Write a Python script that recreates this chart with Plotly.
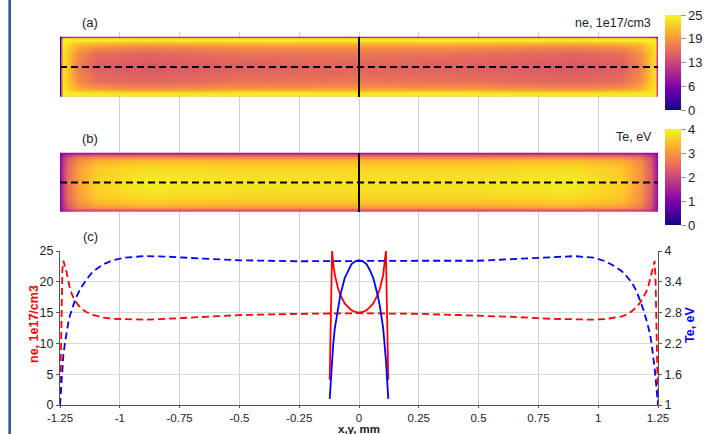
import plotly.graph_objects as go

# ---------------- data ----------------
# 2D maps (rows = y nodes, columns = x nodes) (a) and (b)
x_nodes = [-1.25, -1.245, -1.238, -1.22, -1.18, -1.1, -0.9, -0.5, 0, 0.5, 0.9, 1.1, 1.18, 1.22, 1.238, 1.245, 1.25]
y_nodes = [-0.125, -0.123, -0.1125, -0.105, -0.09, -0.06, 0, 0.06, 0.09, 0.105, 0.1125, 0.123, 0.125]

ne_map = [
    [0, 3, 6, 8, 8, 8, 8, 8, 8, 8, 8, 8, 8, 8, 6, 3, 0],
    [0, 12, 22, 22, 22, 22, 22, 22, 22, 22, 22, 22, 22, 22, 22, 12, 0],
    [0, 14, 24.5, 25, 25, 25, 24.5, 25, 25, 25, 24.5, 25, 25, 25, 24.5, 13, 0],
    [0, 14, 24.5, 24, 23, 22.5, 22, 22.5, 22.5, 22.5, 22, 22.5, 23, 24, 24, 13, 0],
    [0, 14, 24.5, 23, 20.5, 19.2, 18.2, 19, 19.2, 19, 18.2, 19, 20.8, 23, 24, 13, 0],
    [0, 14, 24, 22.5, 18.5, 16, 15.3, 16.2, 16.5, 16.1, 15.3, 16, 18.6, 22.3, 23.5, 12.5, 0],
    [0, 14, 23.5, 22, 17.2, 14.5, 13.85, 14.6, 14.9, 14.5, 13.85, 14.4, 17.5, 21.8, 23, 12, 0],
    [0, 14, 24, 22.5, 18.5, 16, 15.3, 16.2, 16.5, 16.1, 15.3, 16, 18.6, 22.3, 23.5, 12.5, 0],
    [0, 14, 24.5, 23, 20.5, 19.2, 18.2, 19, 19.2, 19, 18.2, 19, 20.8, 23, 24, 13, 0],
    [0, 14, 24.5, 24, 23, 22.5, 22, 22.5, 22.5, 22.5, 22, 22.5, 23, 24, 24, 13, 0],
    [0, 14, 24.5, 25, 25, 25, 24.5, 25, 25, 25, 24.5, 25, 25, 25, 24.5, 13, 0],
    [0, 12, 22, 22, 22, 22, 22, 22, 22, 22, 22, 22, 22, 22, 22, 12, 0],
    [0, 3, 6, 8, 8, 8, 8, 8, 8, 8, 8, 8, 8, 8, 6, 3, 0],
]

te_map = [
    [1.0, 1.0, 1.05, 1.1, 1.2, 1.25, 1.25, 1.25, 1.25, 1.25, 1.25, 1.25, 1.2, 1.1, 1.05, 1.0, 1.0],
    [1.0, 1.1, 1.3, 1.5, 1.7, 1.8, 1.85, 1.85, 1.85, 1.85, 1.85, 1.8, 1.7, 1.5, 1.3, 1.1, 1.0],
    [1.0, 1.25, 1.55, 1.95, 2.35, 2.5, 2.6, 2.55, 2.55, 2.55, 2.6, 2.5, 2.3, 1.9, 1.5, 1.2, 1.0],
    [1.0, 1.3, 1.65, 2.15, 2.7, 2.95, 3.05, 3.0, 3.0, 3.0, 3.05, 2.95, 2.65, 2.05, 1.55, 1.22, 1.0],
    [1.0, 1.35, 1.75, 2.3, 2.9, 3.3, 3.45, 3.38, 3.38, 3.38, 3.45, 3.28, 2.85, 2.15, 1.58, 1.25, 1.0],
    [1.0, 1.38, 1.82, 2.42, 3.05, 3.55, 3.75, 3.68, 3.68, 3.68, 3.75, 3.52, 2.95, 2.25, 1.6, 1.27, 1.0],
    [1.0, 1.4, 1.85, 2.48, 3.12, 3.64, 3.9, 3.82, 3.81, 3.81, 3.9, 3.6, 2.98, 2.3, 1.62, 1.28, 1.0],
    [1.0, 1.38, 1.82, 2.42, 3.05, 3.55, 3.75, 3.68, 3.68, 3.68, 3.75, 3.52, 2.95, 2.25, 1.6, 1.27, 1.0],
    [1.0, 1.35, 1.75, 2.3, 2.9, 3.3, 3.45, 3.38, 3.38, 3.38, 3.45, 3.28, 2.85, 2.15, 1.58, 1.25, 1.0],
    [1.0, 1.3, 1.65, 2.15, 2.7, 2.95, 3.05, 3.0, 3.0, 3.0, 3.05, 2.95, 2.65, 2.05, 1.55, 1.22, 1.0],
    [1.0, 1.25, 1.55, 1.95, 2.35, 2.5, 2.6, 2.55, 2.55, 2.55, 2.6, 2.5, 2.3, 1.9, 1.5, 1.2, 1.0],
    [1.0, 1.1, 1.3, 1.5, 1.7, 1.8, 1.85, 1.85, 1.85, 1.85, 1.85, 1.8, 1.7, 1.5, 1.3, 1.1, 1.0],
    [1.0, 1.0, 1.05, 1.1, 1.2, 1.25, 1.25, 1.25, 1.25, 1.25, 1.25, 1.25, 1.2, 1.1, 1.05, 1.0, 1.0],
]

# Profiles along x (dashed) at y = 0
x_cut = [-1.25, -1.245, -1.24, -1.236, -1.229, -1.222, -1.215, -1.208, -1.2, -1.188, -1.175, -1.16,
         -1.14, -1.12, -1.1, -1.07, -1.03, -0.98, -0.9, -0.8, -0.65, -0.5, -0.25, 0, 0.25, 0.5, 0.65,
         0.8, 0.9, 0.98, 1.03, 1.07, 1.1, 1.12, 1.14, 1.16, 1.175, 1.188, 1.2, 1.209, 1.216, 1.222,
         1.228, 1.232, 1.236, 1.24, 1.245, 1.25]
ne_x = [0, 14, 22, 23.4, 22.6, 21.5, 20.1, 18.8, 18.0, 16.9, 16.3, 15.6,
        15.1, 14.7, 14.5, 14.2, 14.0, 13.9, 13.85, 14.0, 14.3, 14.6, 14.8, 14.9, 14.8, 14.5, 14.3,
        14.0, 13.85, 13.85, 13.95, 14.15, 14.4, 14.7, 15.2, 15.9, 16.6, 17.5, 18.3, 19.2, 20.2, 21.1,
        22.0, 22.8, 23.4, 20, 11, 0]
te_x = [1.0, 1.4, 1.7, 1.97, 2.22, 2.43, 2.61, 2.75, 2.88, 3.03, 3.17, 3.3,
        3.44, 3.56, 3.64, 3.74, 3.82, 3.87, 3.9, 3.89, 3.85, 3.82, 3.8, 3.81, 3.81, 3.81, 3.84,
        3.88, 3.9, 3.87, 3.8, 3.7, 3.6, 3.5, 3.39, 3.22, 3.05, 2.87, 2.68, 2.54, 2.4, 2.23,
        2.05, 1.9, 1.72, 1.52, 1.28, 1.0]

# Profiles along y (solid) at x = 0
y_cut = [-0.1225, -0.1125, -0.108, -0.101, -0.0875, -0.078, -0.06, -0.045, -0.032, -0.016, 0,
         0.016, 0.032, 0.045, 0.06, 0.078, 0.0875, 0.101, 0.108, 0.1125, 0.1225]
ne_y = [4.1, 25, 23.0, 21.1, 18.9, 17.9, 16.5, 15.9, 15.4, 15.1, 15.0,
        15.1, 15.4, 15.9, 16.5, 17.9, 18.9, 21.1, 23.0, 25, 4.1]
te_y = [1.12, 1.88, 2.17, 2.5, 2.92, 3.14, 3.47, 3.63, 3.74, 3.8, 3.82,
        3.8, 3.74, 3.63, 3.47, 3.14, 2.92, 2.5, 2.17, 1.88, 1.12]

x_ticks = [-1.25, -1, -0.75, -0.5, -0.25, 0, 0.25, 0.5, 0.75, 1, 1.25]
x_ticktext = ["-1.25", "-1", "-0.75", "-0.5", "-0.25", "0", "0.25", "0.5", "0.75", "1", "1.25"]
ne_cb_ticks = [0, 6.25, 12.5, 18.75, 25]
ne_cb_text = ["0", "6", "13", "19", "25"]
te_cb_ticks = [0, 1, 2, 3, 4]
te_right_ticks = [1, 1.6, 2.2, 2.8, 3.4, 4]

# ---------------- layout helpers ----------------
W, H = 718, 434
ML, MR, MT, MB = 60, 60, 32, 29
PW = W - ML - MR
PH = H - MT - MB


def fx(px):
    return (px - ML) / PW


def fy(px):
    return (H - MB - px) / PH


def yrange(p_top, p_bot, h_top, h_bot, lo, hi):
    s = (hi - lo) / (h_bot - h_top)
    return [lo - (p_bot - h_bot) * s, hi + (h_top - p_top) * s]


FONT = "Liberation Sans, Arial, sans-serif"
TXT = "#222222"
RED = "#ff0000"
BLUE = "#0000ff"
DASH = "7px,4px"

fig = go.Figure()

cb_common = dict(xref="paper", yref="paper", xanchor="left", yanchor="middle", xpad=0, ypad=0,
                 thickness=16, thicknessmode="pixels", lenmode="pixels", outlinewidth=0,
                 ticks="outside", ticklen=5, tickcolor="#999999",
                 tickfont=dict(size=13, color=TXT, family=FONT))

fig.add_trace(go.Heatmap(
    x=x_nodes, y=y_nodes, z=ne_map, colorscale="Plasma", zmin=0, zmax=25, zsmooth="best",
    xaxis="x", yaxis="y", hoverinfo="skip",
    colorbar=dict(x=fx(665), y=fy(62.5), len=95, tickvals=ne_cb_ticks, ticktext=ne_cb_text, **cb_common),
))
fig.add_trace(go.Heatmap(
    x=x_nodes, y=y_nodes, z=te_map, colorscale="Plasma", zmin=0, zmax=4, zsmooth="best",
    xaxis="x", yaxis="y2", hoverinfo="skip",
    colorbar=dict(x=fx(665), y=fy(177), len=96, tickvals=te_cb_ticks, **cb_common),
))

# cut lines on the maps
for ya in ["y", "y2"]:
    fig.add_trace(go.Scatter(x=[0, 0], y=[y_nodes[0], y_nodes[-1]], mode="lines",
                             line=dict(color="black", width=2), xaxis="x", yaxis=ya, hoverinfo="skip"))
    fig.add_trace(go.Scatter(x=[x_nodes[0], x_nodes[-1]], y=[0, 0], mode="lines",
                             line=dict(color="black", width=2, dash=DASH), xaxis="x", yaxis=ya,
                             hoverinfo="skip"))

# profiles
fig.add_trace(go.Scatter(x=x_cut, y=ne_x, mode="lines", line=dict(color=RED, width=1.8, dash=DASH),
                         xaxis="x", yaxis="y3"))
fig.add_trace(go.Scatter(x=x_cut, y=te_x, mode="lines", line=dict(color=BLUE, width=1.8, dash=DASH),
                         xaxis="x", yaxis="y4"))
fig.add_trace(go.Scatter(x=y_cut, y=ne_y, mode="lines", line=dict(color=RED, width=1.8),
                         xaxis="x", yaxis="y3"))
fig.add_trace(go.Scatter(x=y_cut, y=te_y, mode="lines", line=dict(color=BLUE, width=1.8),
                         xaxis="x", yaxis="y4"))

split_ab = 125
top_c = 251

fig.update_layout(
    width=W, height=H,
    margin=dict(l=ML, r=MR, t=MT, b=MB, pad=0),
    paper_bgcolor="white", plot_bgcolor="white",
    showlegend=False,
    font=dict(family=FONT, size=12.5, color=TXT),
    xaxis=dict(domain=[0, 1], anchor="y3", range=[-1.25, 1.25], tickvals=x_ticks, ticktext=x_ticktext,
               showgrid=True, gridcolor="#cfcfcf", gridwidth=1, zeroline=False,
               showline=True, linecolor="#555555", linewidth=1,
               ticks="outside", ticklen=2, tickcolor="#555555",
               tickfont=dict(size=11.5, color=TXT),
               automargin=False),
    yaxis=dict(domain=[fy(split_ab), 1], anchor="x",
               range=yrange(MT, split_ab, 37, 97, y_nodes[0], y_nodes[-1]), visible=False),
    yaxis2=dict(domain=[fy(top_c), fy(split_ab)], anchor="x",
                range=yrange(split_ab, top_c, 153, 212, y_nodes[0], y_nodes[-1]), visible=False),
    yaxis3=dict(domain=[0, fy(top_c)], anchor="x", range=[0, 25], tickvals=[0, 5, 10, 15, 20, 25],
                showgrid=True, gridcolor="#d9d9d9", gridwidth=1, zeroline=False,
                showline=True, linecolor="#555555", linewidth=1,
                ticks="outside", ticklen=3, tickcolor="#555555",
                tickfont=dict(size=12.5, color=TXT),
                automargin=False),
    yaxis4=dict(overlaying="y3", side="right", anchor="x", range=[1, 4], tickvals=te_right_ticks,
                showgrid=False, zeroline=False,
                showline=True, linecolor="#555555", linewidth=1,
                ticks="outside", ticklen=3, tickcolor="#555555",
                tickfont=dict(size=12.5, color=TXT),
                automargin=False),
    annotations=[
        dict(text="(a)", x=fx(90), y=fy(23), xref="paper", yref="paper", showarrow=False,
             xanchor="center", yanchor="middle", font=dict(size=13, color=TXT)),
        dict(text="ne, 1e17/cm3", x=fx(653), y=fy(23), xref="paper", yref="paper", showarrow=False,
             xanchor="right", yanchor="middle", font=dict(size=12.5, color=TXT)),
        dict(text="(b)", x=fx(90), y=fy(138), xref="paper", yref="paper", showarrow=False,
             xanchor="center", yanchor="middle", font=dict(size=13, color=TXT)),
        dict(text="Te, eV", x=fx(654), y=fy(137), xref="paper", yref="paper", showarrow=False,
             xanchor="right", yanchor="middle", font=dict(size=12.5, color=TXT)),
        dict(text="(c)", x=fx(90), y=fy(237), xref="paper", yref="paper", showarrow=False,
             xanchor="center", yanchor="middle", font=dict(size=13, color=TXT)),
        dict(text="<b>x,y, mm</b>", x=fx(359), y=fy(429), xref="paper", yref="paper", showarrow=False,
             xanchor="center", yanchor="middle", borderpad=0, font=dict(size=11.5, color=TXT)),
        dict(text="<b>ne, 1e17/cm3</b>", x=fx(34), y=fy(324), xref="paper", yref="paper",
             showarrow=False, textangle=-90, xanchor="center", yanchor="middle",
             font=dict(size=12.5, color=RED)),
        dict(text="<b>Te, eV</b>", x=fx(690), y=fy(325), xref="paper", yref="paper",
             showarrow=False, textangle=-90, xanchor="center", yanchor="middle",
             font=dict(size=12.5, color=BLUE)),
    ],
    shapes=[
        dict(type="rect", xref="paper", yref="paper", x0=fx(8.3), x1=fx(11), y0=fy(H), y1=fy(0),
             fillcolor="#3b5a9d", line=dict(width=0), layer="above"),
    ],
)

fig.write_html("out.html")
